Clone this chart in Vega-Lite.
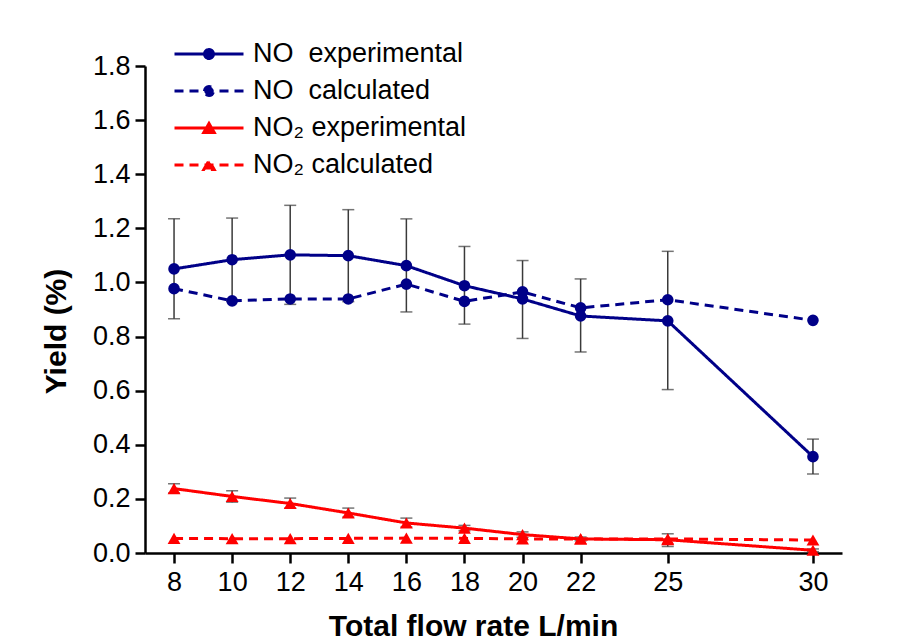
{
  "$schema": "https://vega.github.io/schema/vega-lite/v6.json",
  "width": 697,
  "height": 487,
  "autosize": "none",
  "padding": {"left": 145, "top": 66, "right": 78, "bottom": 91},
  "background": "white",
  "config": {
    "view": {"stroke": null},
    "axis": {
      "domainColor": "black", "domainWidth": 2.5, "tickColor": "black", "tickWidth": 2.5, "tickSize": 10,
      "grid": false, "labelFont": "Liberation Sans", "labelFontSize": 27, "labelColor": "black",
      "titleFont": "Liberation Sans", "titleFontSize": 30, "titleFontWeight": "bold", "titleColor": "black"
    }
  },
  "data": {"values": [
    {"x": 8, "series": "NO\u00a0 experimental", "marker": "circle", "y": 1.05, "lo": 0.866, "hi": 1.235},
    {"x": 10, "series": "NO\u00a0 experimental", "marker": "circle", "y": 1.084, "lo": 0.93, "hi": 1.238},
    {"x": 12, "series": "NO\u00a0 experimental", "marker": "circle", "y": 1.102, "lo": 0.919, "hi": 1.285},
    {"x": 14, "series": "NO\u00a0 experimental", "marker": "circle", "y": 1.099, "lo": 0.929, "hi": 1.269},
    {"x": 16, "series": "NO\u00a0 experimental", "marker": "circle", "y": 1.062, "lo": 0.891, "hi": 1.235},
    {"x": 18, "series": "NO\u00a0 experimental", "marker": "circle", "y": 0.988, "lo": 0.846, "hi": 1.133},
    {"x": 20, "series": "NO\u00a0 experimental", "marker": "circle", "y": 0.939, "lo": 0.793, "hi": 1.081},
    {"x": 22, "series": "NO\u00a0 experimental", "marker": "circle", "y": 0.876, "lo": 0.743, "hi": 1.013},
    {"x": 25, "series": "NO\u00a0 experimental", "marker": "circle", "y": 0.858, "lo": 0.604, "hi": 1.115},
    {"x": 30, "series": "NO\u00a0 experimental", "marker": "circle", "y": 0.356, "lo": 0.292, "hi": 0.421},
    {"x": 8, "series": "NO\u00a0 calculated", "marker": "circle", "y": 0.977},
    {"x": 10, "series": "NO\u00a0 calculated", "marker": "circle", "y": 0.932},
    {"x": 12, "series": "NO\u00a0 calculated", "marker": "circle", "y": 0.939},
    {"x": 14, "series": "NO\u00a0 calculated", "marker": "circle", "y": 0.939},
    {"x": 16, "series": "NO\u00a0 calculated", "marker": "circle", "y": 0.994},
    {"x": 18, "series": "NO\u00a0 calculated", "marker": "circle", "y": 0.93},
    {"x": 20, "series": "NO\u00a0 calculated", "marker": "circle", "y": 0.965},
    {"x": 22, "series": "NO\u00a0 calculated", "marker": "circle", "y": 0.906},
    {"x": 25, "series": "NO\u00a0 calculated", "marker": "circle", "y": 0.936},
    {"x": 30, "series": "NO\u00a0 calculated", "marker": "circle", "y": 0.86},
    {"x": 8, "series": "NO₂ experimental", "marker": "triangle-up", "y": 0.238, "lo": 0.222, "hi": 0.256},
    {"x": 10, "series": "NO₂ experimental", "marker": "triangle-up", "y": 0.209, "lo": 0.188, "hi": 0.23},
    {"x": 12, "series": "NO₂ experimental", "marker": "triangle-up", "y": 0.183, "lo": 0.166, "hi": 0.203},
    {"x": 14, "series": "NO₂ experimental", "marker": "triangle-up", "y": 0.148, "lo": 0.133, "hi": 0.166},
    {"x": 16, "series": "NO₂ experimental", "marker": "triangle-up", "y": 0.111, "lo": 0.096, "hi": 0.129},
    {"x": 18, "series": "NO₂ experimental", "marker": "triangle-up", "y": 0.092, "lo": 0.082, "hi": 0.102},
    {"x": 20, "series": "NO₂ experimental", "marker": "triangle-up", "y": 0.068, "lo": 0.058, "hi": 0.078},
    {"x": 22, "series": "NO₂ experimental", "marker": "triangle-up", "y": 0.052, "lo": 0.045, "hi": 0.059},
    {"x": 25, "series": "NO₂ experimental", "marker": "triangle-up", "y": 0.049, "lo": 0.024, "hi": 0.071},
    {"x": 30, "series": "NO₂ experimental", "marker": "triangle-up", "y": 0.01, "lo": 0.005, "hi": 0.015},
    {"x": 8, "series": "NO₂ calculated", "marker": "triangle-up", "y": 0.054},
    {"x": 10, "series": "NO₂ calculated", "marker": "triangle-up", "y": 0.053},
    {"x": 12, "series": "NO₂ calculated", "marker": "triangle-up", "y": 0.053},
    {"x": 14, "series": "NO₂ calculated", "marker": "triangle-up", "y": 0.054},
    {"x": 16, "series": "NO₂ calculated", "marker": "triangle-up", "y": 0.055},
    {"x": 18, "series": "NO₂ calculated", "marker": "triangle-up", "y": 0.054},
    {"x": 20, "series": "NO₂ calculated", "marker": "triangle-up", "y": 0.052},
    {"x": 22, "series": "NO₂ calculated", "marker": "triangle-up", "y": 0.052},
    {"x": 25, "series": "NO₂ calculated", "marker": "triangle-up", "y": 0.052},
    {"x": 30, "series": "NO₂ calculated", "marker": "triangle-up", "y": 0.048}
  ]},
  "encoding": {
    "x": {"field": "x", "type": "quantitative",
      "scale": {"domain": [7, 31], "nice": false, "zero": false},
      "axis": {"values": [8, 10, 12, 14, 16, 18, 20, 22, 25, 30], "labelPadding": 6,
        "title": "Total flow rate L/min", "titleX": 328, "titleY": 82, "titleAlign": "center", "titleBaseline": "alphabetic"}}
  },
  "layer": [
    {
      "transform": [{"filter": "isValid(datum.lo)"}],
      "mark": {"type": "errorbar", "ticks": {"size": 12, "thickness": 1.5, "color": "#3a3a3a"}, "rule": {"strokeWidth": 1.5, "color": "#3a3a3a"}},
      "encoding": {
        "y": {"field": "lo", "type": "quantitative", "scale": {"domain": [0, 1.8], "nice": false}, "title": "Yield (%)"},
        "y2": {"field": "hi"}
      }
    },
    {
      "mark": {"type": "line", "strokeWidth": 3},
      "encoding": {
        "y": {"field": "y", "type": "quantitative", "scale": {"domain": [0, 1.8], "nice": false},
          "axis": {"values": [0, 0.2, 0.4, 0.6, 0.8, 1.0, 1.2, 1.4, 1.6, 1.8], "format": ".1f", "labelPadding": 5,
            "title": "Yield (%)", "titleX": -80, "titleY": 265, "titleAlign": "center", "titleBaseline": "alphabetic", "titleAngle": -90}},
        "color": {"field": "series", "type": "nominal",
          "scale": {"domain": ["NO\u00a0 experimental", "NO\u00a0 calculated", "NO₂ experimental", "NO₂ calculated"],
                    "range": ["#000088", "#000088", "#ff0000", "#ff0000"]},
          "legend": {"title": null, "orient": "none", "legendX": 28, "legendY": -26, "padding": 0,
            "symbolSize": 4761, "symbolStrokeWidth": 3, "symbolType": "M-1,0L1,0", "clipHeight": 28,
            "labelFont": "Liberation Sans", "labelFontSize": 27, "labelColor": "black", "labelOffset": 8, "labelLimit": 400,
            "rowPadding": 9,
            "encode": {"symbols": {"update": {
              "shape": {"signal": "indexof(datum.value, '₂') >= 0 ? 'M-1,0L1,0M-0.15,0.13L0,-0.13L0.15,0.13Z' : 'M-1,0L1,0M-0.13,0A0.13,0.13,0,1,1,0.13,0A0.13,0.13,0,1,1,-0.13,0Z'"},
              "fill": {"scale": "color", "field": "value"}
            }}}}},
        "strokeDash": {"field": "series", "type": "nominal",
          "scale": {"domain": ["NO\u00a0 experimental", "NO\u00a0 calculated", "NO₂ experimental", "NO₂ calculated"],
                    "range": [[1, 0], [9, 6], [1, 0], [9, 6]]}}
      }
    },
    {
      "mark": {"type": "point", "filled": true, "opacity": 1, "size": 135},
      "encoding": {
        "y": {"field": "y", "type": "quantitative"},
        "color": {"field": "series", "type": "nominal"},
        "shape": {"field": "marker", "type": "nominal", "scale": null, "legend": null},
        "size": {"condition": {"test": "datum.marker == 'triangle-up'", "value": 165}, "value": 135}
      }
    }
  ]
}
